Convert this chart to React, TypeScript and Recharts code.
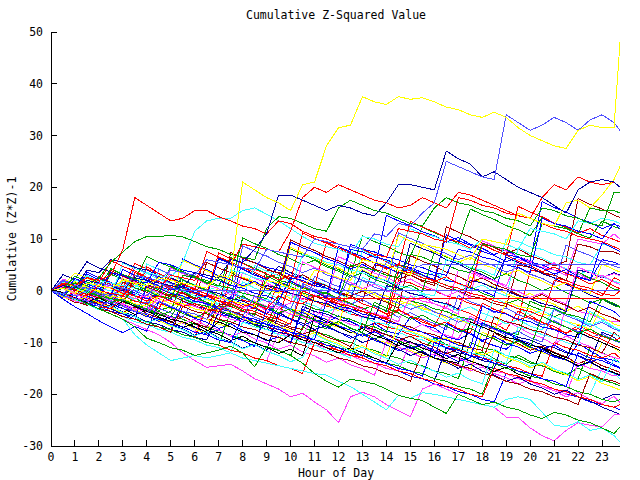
import React from "react"
import { LineChart, Line, XAxis, YAxis } from "recharts"

// hour of day, half-hour steps plus the last quarter
const hours = [
  0, 0.5, 1, 1.5, 2, 2.5, 3, 3.5, 4, 4.5, 5, 5.5, 6, 6.5, 7, 7.5, 8, 8.5, 9, 9.5, 10, 10.5, 11, 11.5,
  12, 12.5, 13, 13.5, 14, 14.5, 15, 15.5, 16, 16.5, 17, 17.5, 18, 18.5, 19, 19.5, 20, 20.5, 21, 21.5,
  22, 22.5, 23, 23.5, 23.75,
]

const xTicks = [0, 1, 2, 3, 4, 5, 6, 7, 8, 9, 10, 11, 12, 13, 14, 15, 16, 17, 18, 19, 20, 21, 22, 23]
const yTicks = [-30, -20, -10, 0, 10, 20, 30, 40, 50]

const yellowTop = [0, 0.5, -0.5, 1.5, 1, 0.5, 2, 1.5, 1, 2.5, 2, 1.5, 1, 0.5, 3, 2.5, 21, 19.5, 18, 17, 15.5, 20.5, 21, 28, 31.5, 32, 37.5, 36.5, 36, 37.5, 37, 37.3, 36.5, 35.5, 35, 34, 33.5, 34.5, 33.5, 31.5, 30, 29, 28, 27.5, 31, 32, 31.5, 31.5, 48]
const lightBlueHigh = [0, -0.5, -1, 0, 1.5, 1, 0.5, 3, 2.5, 2, 4, 3.5, 3, 6, 5.5, 5, 4.5, 4, 8, 7.5, 7, 6.5, 10, 9.5, 9, 8.5, 8, 11, 10.5, 13, 12.5, 15, 17, 25, 24, 23, 22, 21.5, 34, 32.5, 31, 32, 33.5, 32.5, 31, 33, 34, 32.5, 31]
const darkBlueHigh = [0, 1, 0.5, 2, 1.5, 1, 0, 2.5, 2, 1.5, 1, 0.5, 3.5, 3, 2.5, 6, 5.5, 8, 11, 18.5, 18.5, 17.5, 16.5, 15.5, 16.5, 16, 15, 14.5, 17, 20.5, 20.5, 20, 19.5, 27, 25.5, 24.5, 22, 23, 21.5, 20, 19, 18, 16.5, 15, 19.5, 21, 21.5, 21, 20]
const redEarly = [0, 1.5, 1, 2.5, 2, 3, 8, 18, 16.5, 15, 13.5, 14, 15.5, 15.5, 14.3, 13.5, 12.5, 12, 11, 13.5, 13, 11.5, 10.5, 10, 9, 8.5, 8, 7, 6.5, 12, 11.5, 11, 10, 9.5, 18, 17.5, 16.5, 16, 15, 14.5, 14, 13, 12, 11.5, 10.5, 10, 9.5, 8.5, 8]
const redLate = [0, -0.5, -1, 0.5, 0, -0.5, -1, 1.5, 1, 0.5, 3, 2.5, 2, 6, 5.5, 5, 9, 8.5, 8, 7.5, 11.5, 18, 20, 19, 20.5, 19.5, 18.5, 17.5, 17, 16, 16.5, 18, 17, 16, 19, 18.5, 17.5, 16.5, 15.5, 14.5, 14, 18, 20.5, 19.5, 22, 21, 20.5, 21, 20]
const cyanHigh = [0, 1, 0.5, -0.5, 2, 1.5, 1, 0.5, 3.5, 3, 2.5, 5.5, 11.5, 13.5, 14, 14, 15.5, 16, 14.8, 13.5, 12, 10.5, 9.2, 8.5, 8, 7, 10.5, 10, 9, 8.5, 12, 11, 10.5, 9.5, 9, 8, 10, 9.5, 9, 8, 12, 11.5, 11, 10, 13.5, 13, 14, 13.5, 13]
const greenHigh = [0, 0.5, 1.5, 1, 2.5, 5.5, 7.5, 9.5, 10.5, 10.5, 10.7, 10.4, 9.5, 8.5, 8, 7, 6.5, 6, 12, 14.3, 14, 13, 12, 11.5, 16, 17.5, 16.5, 15.5, 15, 14, 13, 12.5, 16, 18, 17, 16.5, 15.5, 15, 14, 13.5, 12.5, 16, 15.5, 14.5, 14, 13, 12.5, 19, 19]
const magentaLow = [0, -1, -2, -2.5, -3.5, -4.5, -5.5, -6.5, -7.5, -8.5, -10, -12, -13.5, -14.8, -14.5, -14.2, -15.5, -17, -18, -19, -20.5, -19.8, -21.5, -23, -25.5, -20.5, -19.6, -20.5, -22, -23.2, -24.3, -19, -18, -19, -20, -21, -22, -22.5, -24.4, -24.5, -26.5, -28, -29, -27, -25.5, -26, -26.3, -24, -24]
const cyanLow = [0, -1, -1.5, -2.5, -3.5, -4.5, -5.5, -8.5, -10.5, -12, -13.5, -13, -12.5, -13, -12.5, -12, -13, -13.5, -14, -14.5, -15, -15.5, -16, -16.3, -17.5, -18.5, -20, -21.5, -23, -20.2, -20.8, -19.7, -20, -20.5, -21, -21.5, -22, -22.5, -21, -20.5, -21, -23.5, -26, -26.3, -25.3, -27, -26.5, -28, -29.2]
const greenLow = [0, -1, -1.5, -2.5, -3.5, -4.5, -5.5, -7, -9.2, -10, -11, -11.5, -12.5, -12, -11.5, -10.7, -12, -14.7, -10.8, -11.5, -12.5, -14, -16, -17.5, -18.6, -17.1, -17.5, -18, -19, -20.2, -20.8, -21.2, -22.5, -23.7, -20, -21, -22, -21.5, -22.5, -23, -24, -24.7, -23.5, -24, -25, -25.5, -26.5, -27.6, -26.3]
const redFlat = [0, 0.5, -0.5, -1, 1, 0.5, -0.5, -1, -2, -1, -2, -3, -2.5, -3.5, -4, -2, -3, -2.5, -3.5, -1, -2, -2.5, -1, -1.5, -1.5, -1.5, -1.5, -1.5, -1.5, -1.5, -1.5, -1.5, -1.5, -1.5, -1.5, -1.5, -1.5, -1.5, -1.5, -1.5, -1.5, -1.5, -1.5, -1.5, -1.5, -1.5, -1.5, -1.5, -1.5]
const lightBlueFlat = [0, -0.5, 1, 0.5, -0.5, -1, 0.5, 0, -1, 1.5, 0.5, 0, 0, 0, 0, 0, 0, 0, 0, 0, 0, 0, 0, 0, 0, 0, 0, 0, 0, 0, 0, 0, 0, 0, 0, 0, 0, 0, 0, 0, 0, 0, 0, 0, 0, 0, 0, 0, 0]
const lightBlueFlatHigh = [0, -1, -1.5, -2, -3, -2, -3, -4, -4.5, -2, -3, -4, -4.5, -5.5, -3, -4, -5, -1, -2, -2.5, -3.5, 1, 0, -1, -1.5, 3, 2, 1.5, 5.5, 4.5, 4, 5, 5, 5, 5, 5, 5, 5, 5, 5, 5, 5, 5, 5, 5, 5, 5, 5, 5]
const blackMid = [0, -0.5, -1.5, -2, -3, -3.5, -2, -3, -4, -4.5, -5.5, -6, -7, -8, -6, -7, -8, -8.5, -9.5, -10, -8.5, -9.5, -10, -11, -12, -11, -12, -13, -14, -10, -11, -12, -13, -13.5, -14, -6, -7, -8, -9, -9.5, -10.5, -11, -12, -13, -8, -9, -10, -11, -11.5]
const yellowLate = [0, -0.5, -1, 0.5, 0, -1, -1.5, -2.5, -3, -1, -2, -2.5, -3.5, -4, -1, -2, -2.5, -3, 2, 1.5, 0.5, 0, 4, 3.5, 2.5, 2, 6, 5.5, 5, 4, 3, 9, 8.5, 8, 7, 6, 10, 9.5, 9, 15, 14, 13, 12.5, 17, 17.5, 16, 18.5, 21.5, 24]
const greenRise = [0, 1, 0.5, 0, -1, -1.5, -2, 0.5, 0, -1, -1.5, 3, 2.5, 2, 1, 0.5, -0.5, -1, -1.5, 2, 1.5, 0.5, 0, -0.5, -1.5, 5, 4.5, 4, 3, 2.5, 7, 6.5, 5.5, 5, 4, 3.5, 9, 8.5, 8, 7, 6.5, 13, 12.5, 12, 11, 16, 15.5, 15.5, 15]
const blueRise = [0, -1, 1.5, 1, 0, 3.5, 3, 2, 1.5, 5.5, 5, 4, 3.5, 2.5, 2, 1, 0.5, -0.5, -1, -2, 2.5, 2, 1, 0.5, -0.5, 9, 8, 7.5, 6.5, 6, 5, 4.5, 3.5, 3, 8, 7.5, 6.5, 6, 5, 4.5, 3.5, 14, 13, 12.5, 11.5, 11, 10, 13, 12]
const magentaRise = [0, -0.5, -1.5, -2, -1, -2, -2.5, -3.5, -4, -1, -2, -2.5, -3, -4, -4.5, -5.5, -6, -2, -3, -3.5, -4.5, -5, -6, -6.5, -2, -3, -3.5, -4.5, -5, -6, -1, -2, -2.5, -3.5, 4, 3.5, 2.5, 2, 1, 6, 5.5, 4.5, 4, 3, 10, 9.5, 9, 11, 10]
const cyanMid = [0, 0.5, 2, 1.5, 0.5, 0, -1, -1.5, 2, 1.5, 0.5, 0, -1, -1.5, -2.5, 4, 3.5, 2.5, 2, 1, 0.5, 7, 6.5, 5.5, 5, 4, 3.5, 2.5, 2, 1, 0.5, -0.5, -1, 6, 5.5, 4.5, 4, 3, 10, 9.5, 8.5, 8, 7, 6.5, 5.5, 5, 9, 8.5, 8]
const darkRedMid = [0, -1, -1.5, -2.5, 1, 0.5, -0.5, -1, -2, -2.5, -3.5, -4, -5, -5.5, -1, -2, -2.5, -3.5, 4, 3.5, 2.5, 2, 1, 0.5, -0.5, -1, -2, 5, 4.5, 3.5, 3, 2, 1.5, 0.5, 0, -1, -1.5, -2.5, -3, 5, 4.5, 3.5, 3, 2, 9, 8.5, 7.5, 7.5, 7]
const darkBlueMid = [0, 1, 0.5, 4, 3.5, 6, 5.5, 4.5, 4, 3, 2.5, 1.5, 1, 0, -0.5, -1.5, -2, -3, 1, 0.5, -0.5, -1, -2, -2.5, -3.5, -4, -5, -5.5, 1, 0.5, -0.5, -1, -2, -2.5, -3.5, 2, 1.5, 0.5, 0, -1, -1.5, -2.5, -3, -4, 4, 3.5, 2.5, 3.5, 3]
const redMid = [0, -0.5, -1.5, -2, -3, -3.5, -1, -2, -2.5, -3.5, 1, 0.5, -0.5, -1, -2, -2.5, -3.5, -4, -5, -5.5, -6.5, 0, -1, -1.5, -2.5, -3, -4, -4.5, -5.5, 4, 3.5, 2.5, 2, 1, 0.5, -0.5, -1, -2, -2.5, -3.5, -4, -5, 2, 1.5, 0.5, 0, -1, 2.5, 2]
const greenMid = [0, 1.5, 1, 0, -0.5, -1.5, -2, -3, -3.5, -4.5, -5, -1.5, -2.5, -3, -4, -4.5, -5.5, -6, -7, -1, -2, -2.5, -3.5, -4, -5, -5.5, -6.5, -7, -8, -1, -2, -2.5, -3.5, -4, -5, -5.5, -6.5, -7, -8, -8.5, -2, -3, -3.5, -4.5, -5, -6, -1.5, -2.5, -3]
const blueMid = [0, -1, -1.5, -2.5, -3, -4, -4.5, -5.5, 1, 0.5, -0.5, -1, -2, -2.5, -3.5, -4, -5, -5.5, -6.5, -7, -8, -8.5, -9.5, -2, -3, -3.5, -4.5, -5, -6, -6.5, -7.5, -8, -9, -9.5, -10.5, -11, -3, -4, -4.5, -5.5, -6, -7, -7.5, -8.5, -9, -2, -3, -4, -5]
const magentaMid = [0, 0.5, -0.5, -1, -2, -2.5, -3.5, -4, -5, -5.5, -6.5, -7, -8, -3, -4, -4.5, -5.5, -6, -7, -7.5, -8.5, -9, -4, -5, -5.5, -6.5, -7, -8, -8.5, -9.5, -10, -11, -11.5, -12.5, -5, -6, -6.5, -7.5, -8, -9, -9.5, -10.5, -11, -3, -4, -4.5, -5.5, -6, -6]
const cyanDrift = [0, -1, -2, -2.5, -3.5, -4, -5, -6, -6.5, -7.5, -8, -9, -9.5, -10.5, -11, -12, -6, -7, -7.5, -8.5, -9, -10, -10.5, -11.5, -12, -13, -5, -6, -6.5, -7.5, -8, -9, -9.5, -10.5, -11, -12, -12.5, -13.5, -14, -7, -7.5, -8.5, -9, -10, -10.5, -4, -5.5, -7, -8]
const darkRedDrift = [0, 1, 0, -0.5, -1.5, -2, -3, 3, 2, 1.5, 0.5, 0, -1, -1.5, -2.5, -3, -4, -4.5, -5.5, -6, -7, -7.5, -1, -2, -2.5, -3.5, -4, -5, -5.5, -6.5, -7, -8, -8.5, -9.5, -10, -11, -11.5, -5, -6, -6.5, -7.5, -8, -9, -9.5, -10.5, -11, -12, -8, -9]
const darkBlueDrift = [0, -0.5, -1.5, -2, 2, 1.5, 0.5, 0, -1, -1.5, -2.5, -3, -4, -4.5, -5.5, -6, -7, -7.5, -8.5, -9, -10, -3, -4, -4.5, -5.5, -6, -7, -7.5, -8.5, -9, -10, -10.5, -11.5, -12, -13, -13.5, -14.5, -15, -8, -9, -9.5, -10.5, -11, -12, -12.5, -13.5, -8, -9, -10]
const yellowDrift = [0, -1, -1.5, -2.5, -3, -4, -4.5, -1, -2, -2.5, -3.5, -4, -5, -5.5, -6.5, -7, -8, -8.5, -9.5, -10, -4, -5, -5.5, -6.5, -7, -8, -8.5, -9.5, -10, -11, -11.5, -12.5, -13, -14, -14.5, -15.5, -8, -9, -9.5, -10.5, -11, -12, -12.5, -13.5, -14, -15, -10, -11, -12]
const redDrift = [0, -0.5, -1.5, -2, -3, -3.5, -4.5, -5, -6, -6.5, -7.5, -8, -9, -3, -4, -4.5, -5.5, -6, -7, -7.5, -8.5, -9, -10, -10.5, -11.5, -12, -13, -6, -7, -7.5, -8.5, -9, -10, -10.5, -11.5, -12, -13, -13.5, -14.5, -15, -16, -16.5, -10, -11, -11.5, -12.5, -13, -12, -13]
const greenDrift = [0, -1, -2, -2.5, -3.5, -1, -2, -2.5, -3.5, -4, -5, -5.5, -6.5, -7, -8, -8.5, -9.5, -10, -11, -11.5, -12.5, -7, -8, -8.5, -9.5, -10, -11, -11.5, -12.5, -13, -14, -14.5, -15.5, -16, -17, -10, -11, -11.5, -12.5, -13, -14, -14.5, -15.5, -16, -17, -11, -12, -13, -14]
const blueDrift = [0, 0.5, -0.5, -1, -2, -2.5, -3.5, -4, -5, -5.5, -6.5, -7, -8, -8.5, -9.5, -10, -5, -6, -6.5, -7.5, -8, -9, -9.5, -10.5, -11, -12, -12.5, -13.5, -14, -15, -15.5, -16.5, -10, -11, -11.5, -12.5, -13, -14, -14.5, -15.5, -16, -17, -17.5, -18.5, -12, -13, -13.5, -14.5, -15]
const magentaDrift = [0, -1, -1.5, -2.5, -3, -4, -4.5, -5.5, -6, -7, -7.5, -8.5, -9, -10, -10.5, -11.5, -12, -13, -13.5, -8, -9, -9.5, -10.5, -11, -12, -12.5, -13.5, -14, -15, -15.5, -10, -11, -11.5, -12.5, -13, -14, -14.5, -15.5, -16, -17, -17.5, -18.5, -19, -20, -14, -15, -15.5, -16.5, -16]
const cyanFall = [0, -0.5, -1.5, -2, -3, -3.5, 2, 1, 0.5, -0.5, -1, -2, -2.5, -3.5, -4, -5, -5.5, -6.5, -7, -8, -8.5, -9.5, -10, -11, -11.5, -12.5, -13, -14, -14.5, -8, -9, -9.5, -10.5, -11, -12, -12.5, -13.5, -14, -15, -15.5, -16.5, -17, -18, -18.5, -19.5, -20, -15, -16, -17]
const darkRedFall = [0, -1, -2, -2.5, -3.5, -4, -5, -5.5, -6.5, -7, -8, -3, -4, -4.5, -5.5, -6, -7, -7.5, -8.5, -9, -10, -10.5, -11.5, -12, -13, -13.5, -14.5, -15, -16, -16.5, -17.5, -12, -13, -13.5, -14.5, -15, -16, -16.5, -17.5, -18, -19, -19.5, -20.5, -21, -22, -16, -17, -17.5, -18]
const darkBlueFall = [0, -0.5, -1.5, -2, -3, -3.5, -4.5, -5, -6, -6.5, -7.5, -8, -9, -9.5, -4, -5, -5.5, -6.5, -7, -8, -8.5, -9.5, -10, -11, -11.5, -12.5, -13, -14, -14.5, -15.5, -16, -17, -17.5, -11, -12, -12.5, -13.5, -14, -15, -15.5, -16.5, -17, -18, -18.5, -19.5, -20, -21, -20, -20]
const redFall = [0, -1, -1.5, -2.5, -3, -4, -4.5, -5.5, -6, -7, -7.5, -8.5, -9, -10, -10.5, -11.5, -12, -13, -13.5, -14.5, -15, -16, -10, -11, -11.5, -12.5, -13, -14, -14.5, -15.5, -16, -17, -17.5, -18.5, -19, -20, -20.5, -15, -16, -16.5, -17.5, -18, -19, -19.5, -20.5, -21, -22, -22.5, -22]
const blueFall = [0, -0.5, -1.5, -2, -3, -3.5, -4.5, -5, -6, -6.5, -7.5, -2, -3, -3.5, -4.5, -5, -6, -6.5, -7.5, -8, -9, -9.5, -10.5, -11, -12, -12.5, -13.5, -14, -15, -15.5, -16.5, -17, -18, -18.5, -19.5, -20, -21, -21.5, -16, -17, -17.5, -18.5, -19, -20, -20.5, -21.5, -22, -22.5, -23]
const greenFall = [0, -1, -1.5, -2.5, -3, -4, -4.5, -5.5, -6, -7, -7.5, -8.5, -9, -10, -10.5, -4, -5, -5.5, -6.5, -7, -8, -8.5, -9.5, -10, -11, -11.5, -12.5, -13, -14, -14.5, -15.5, -16, -17, -17.5, -18.5, -19, -20, -14, -15, -15.5, -16.5, -17, -18, -18.5, -19.5, -20, -21, -21.5, -21]
const yellowMid = [0, 0.5, -0.5, -1, 2, 1.5, 0.5, 0, -1, -1.5, -2.5, -3, -4, -4.5, 1, 0.5, -0.5, -1, -2, -2.5, -3.5, -4, -5, -5.5, -6.5, 1, 0.5, -0.5, -1, -2, -2.5, -3.5, -4, -5, -5.5, -6.5, -7, -8, -2, -3, -3.5, -4.5, -5, -6, -6.5, -7.5, -3, -4, -5]
const blueUp = [0, 1, 0.5, -0.5, -1, -2, -2.5, 3, 2.5, 1.5, 1, 0, -0.5, -1.5, -2, -3, 6, 5.5, 4.5, 4, 3, 2.5, 1.5, 1, 0, 8, 7.5, 6.5, 6, 5, 4.5, 3.5, 3, 2, 1.5, 0.5, 0, -1, 7, 6.5, 5.5, 5, 4, 3.5, 2.5, 2, 6, 5.5, 5]
const redZero = [0, -0.5, -1.5, 2, 1.5, 0.5, 0, -1, -1.5, -2.5, -3, -4, -4.5, -5.5, -6, 3, 2.5, 1.5, 1, 0, -0.5, -1.5, -2, -3, -3.5, -4.5, -5, -6, -6.5, 2, 1.5, 0.5, 0, -1, -1.5, -2.5, -3, -4, -4.5, -5.5, 4, 3.5, 2.5, 2, 1, 0.5, -0.5, -1, 0]
const blueWander = [0, 1.8, 0.6, 3.2, 2.1, 1.4, 0.3, -0.8, 1.9, 0.7, -0.4, -1.6, -0.9, -2.3, -3.1, -1.2, -2.6, -3.4, -4.5, -2.2, -3.5, -4.1, -5.6, -6.2, -4.8, -5.9, -7.1, -6.3, -7.8, -8.4, -5.1, -6.6, -7.2, -8.9, -9.5, -8.1, -9.8, -10.6, -11.3, -9.4, -10.9, -11.7, -12.8, -13.4, -10.2, -11.6, -12.9, -13.5, -13.8]
const redWander = [0, -1.3, -0.2, -1.9, 2.4, 1.1, 0.2, -1.1, 4.6, 3.3, 2.4, 1.2, 0.5, -0.7, -1.5, -0.3, -1.8, -2.4, -3.7, 1.6, 0.4, -0.6, -1.9, -2.7, -1.1, -2.5, -3.3, -4.6, -5.2, -3.8, -4.9, -6.1, -6.8, -2.3, -3.6, -4.4, -5.7, -6.3, -7.6, -3.9, -5.2, -6.1, -7.4, -8.2, -6.7, -7.9, -8.8, -9.6, -9.2]
const greenWander = [0, 0.9, -0.4, -1.6, -0.8, -2.1, -2.9, -1.4, -2.7, -3.8, -3.1, -4.4, -5.3, -4.1, -5.6, -6.4, -5.2, -6.7, -7.5, -3.2, -4.6, -5.4, -6.8, -7.3, -5.9, -7.2, -8.1, -9.3, -8.4, -9.7, -10.5, -11.6, -9.1, -10.4, -11.3, -12.6, -11.8, -13.1, -14.2, -12.4, -13.7, -14.5, -15.6, -16.3, -14.9, -16.1, -17.2, -17.9, -18.4]
const magentaWander = [0, 2.3, 1.2, 0.4, -0.7, 1.5, 0.6, -0.5, -1.3, -2.4, -1.6, -2.8, 0.9, -0.2, -1.4, -2.1, -3.3, -2.5, -3.9, -4.6, -3.4, -4.7, -5.5, -1.8, -3.1, -3.9, -5.2, -4.3, -5.6, -6.4, -7.7, -6.5, -7.8, -8.6, -9.3, -4.9, -6.2, -7.1, -5.8, -7.0, -8.3, -9.1, -10.4, -8.7, -9.9, -10.8, -12.1, -12.9, -13.2]
const cyanWander = [0, -0.6, 1.4, 0.3, -0.9, -1.7, -0.6, -1.9, -2.6, 0.8, -0.3, -1.2, -2.4, -1.5, -2.8, -3.6, 1.7, 0.5, -0.4, -1.6, -0.8, -2.1, -2.9, -4.1, -3.2, -4.5, 2.6, 1.4, 0.6, -0.7, -1.5, -0.6, -1.9, -2.7, -3.9, -3.1, -4.3, -5.2, -6.4, -5.6, -6.8, -7.6, -3.3, -4.5, -5.4, -6.6, -5.8, -7.1, -7.5]
const darkRedWander = [0, -1.1, -2.3, -1.4, -2.6, -3.5, -4.2, -3.1, -4.4, -5.3, -6.1, -4.9, -6.2, -7.1, -2.8, -3.9, -4.7, -6.0, -5.2, -6.5, -7.3, -8.4, -7.6, -8.9, -9.7, -10.8, -6.4, -7.7, -8.5, -9.6, -8.8, -10.1, -10.9, -12.2, -11.3, -12.6, -13.4, -8.1, -9.4, -10.2, -11.5, -10.7, -11.9, -12.8, -14.1, -13.2, -14.5, -15.3, -15.8]
const darkBlueWander = [0, 3.1, 2.2, 5.6, 4.4, 3.6, 2.3, 1.5, 0.4, 2.8, 1.6, 0.8, -0.4, -1.2, 6.4, 5.3, 4.1, 3.3, 2.0, 4.7, 3.5, 2.6, 1.4, 0.6, -0.6, -1.4, 3.9, 2.7, 1.9, 0.6, 9.2, 8.1, 7.3, 6.0, 5.2, 4.0, 3.1, 2.0, 6.5, 5.4, 4.6, 3.3, 2.5, 1.2, 0.4, -0.8, -1.6, -2.7, -3.1]
const lightBlueWander = [0, -0.8, -1.7, 0.9, -0.1, -1.2, -2.0, -3.1, -2.2, -3.4, -4.3, -5.1, -1.6, -2.7, -3.6, -4.8, -3.9, -5.1, -6.0, -7.2, -6.3, 1.4, 0.3, -0.6, -1.8, -2.6, -1.7, -3.0, -3.8, -5.1, -4.2, -5.5, -6.3, -7.5, -0.9, -2.1, -2.9, -4.2, -3.3, -4.6, -5.4, -6.6, -5.8, -7.0, -7.9, -9.1, -8.3, -9.6, -10.1]
const yellowWander = [0, 1.2, 3.4, 2.5, 1.3, 0.5, -0.7, 2.6, 1.5, 0.7, -0.5, -1.3, -0.4, -1.7, -2.5, 3.8, 2.6, 1.8, 0.5, -0.3, -1.5, -0.6, -1.9, -2.7, -3.9, 1.2, 0.1, -0.8, -2.0, -2.8, -1.9, -3.2, -4.0, -5.3, -4.4, 2.7, 1.5, 0.7, -0.6, -1.4, -0.5, -1.8, -2.6, -3.9, -3.0, -4.3, -5.1, -6.4, -6.8]
const greenJump = [0, -0.7, -1.8, -2.6, -1.5, 4.3, 3.1, 2.3, 1.0, 0.2, -1.0, -0.1, -1.4, -2.2, -3.4, -2.6, -3.8, -4.7, 2.9, 1.7, 0.9, -0.4, -1.2, -0.3, -1.6, -2.4, -3.6, -2.8, -4.0, 5.1, 4.0, 3.1, 1.9, 1.1, -0.1, 0.8, -0.5, -1.3, -2.5, -1.7, -2.9, -3.8, -5.0, -4.1, 3.6, 2.4, 1.6, 0.3, 0.1]
const redSlide = [0, 0.6, -0.5, -1.4, -2.3, -1.4, -2.6, 3.5, 2.4, 1.5, 0.3, -0.5, -1.6, -0.8, -2.0, -2.9, -4.1, -3.2, -4.4, -5.3, 1.9, 0.8, -0.1, -1.3, -2.1, -1.2, -2.5, -3.3, -4.5, -3.6, -4.9, -5.7, -6.9, -6.0, -7.3, -8.1, -2.4, -3.6, -4.4, -5.7, -4.8, -6.1, -6.9, -8.2, -7.3, -8.6, -9.4, -10.6, -11.0]
const blueSlide = [0, -1.4, -0.5, -1.8, -2.7, -3.5, -2.6, -3.9, -4.7, -5.9, -5.0, -6.3, -7.1, -8.4, -7.5, -8.8, -9.6, -10.8, -3.4, -4.6, -5.5, -6.7, -5.8, -7.1, -7.9, -9.2, -8.3, -9.6, -10.4, -11.6, -10.8, -12.1, -12.9, -6.3, -7.5, -8.4, -9.6, -8.8, -10.1, -10.9, -12.1, -11.3, -12.6, -13.4, -14.6, -13.8, -15.1, -15.9, -16.4]
const magentaSlide = [0, 0.4, -0.7, -1.5, -0.6, -1.9, -2.7, -3.9, -3.0, -4.3, -5.1, -6.3, -5.5, -6.8, -7.6, -8.8, -8.0, -9.3, -10.1, -11.3, -10.5, -11.8, -12.6, -13.8, -13.0, -14.3, -15.1, -16.3, -9.7, -10.9, -11.8, -13.0, -12.2, -13.5, -14.3, -15.5, -14.7, -16.0, -16.8, -18.0, -17.2, -18.5, -19.3, -20.5, -19.7, -21.0, -21.8, -20.4, -21.6]
const cyanJump = [0, 1.6, 0.5, 2.9, 1.8, 0.9, -0.3, -1.1, 5.2, 4.1, 3.2, 2.0, 1.2, 0.0, 0.9, -0.4, -1.2, -2.4, -1.6, -2.8, -3.7, 3.1, 1.9, 1.1, -0.2, -1.0, -0.1, -1.4, -2.2, -3.4, -2.6, -3.8, -4.7, -5.9, -5.1, -6.4, -7.2, -1.3, -2.5, -3.4, -4.6, -3.8, -5.1, -5.9, -7.1, -6.3, -7.6, -8.4, -8.9]
const darkRedJump = [0, -0.9, -2.0, -2.8, -1.9, -3.2, 1.7, 0.6, -0.3, -1.5, -0.7, -2.0, -2.8, -4.0, -3.2, 7.4, 6.3, 5.4, 4.2, 3.4, 2.2, 3.1, 1.8, 1.0, -0.2, -1.0, -0.1, -1.4, -2.2, -3.4, 6.8, 5.7, 4.8, 3.6, 2.8, 1.6, 2.5, 1.2, 0.4, -0.8, -1.6, -0.7, -2.0, -2.8, -4.0, -3.2, -4.5, -5.3, -5.9]
const darkBlueSlide = [0, -0.5, -1.6, -2.4, -3.6, -2.8, -4.1, -4.9, -6.1, -5.3, -6.6, -7.4, -8.6, -7.8, -9.1, -9.9, -11.1, -10.3, -11.6, -4.2, -5.4, -6.3, -7.5, -6.7, -8.0, -8.8, -10.0, -9.2, -10.5, -11.3, -12.5, -11.7, -13.0, -13.8, -15.0, -14.2, -15.5, -16.3, -17.5, -16.7, -18.0, -18.8, -20.0, -19.2, -20.5, -21.3, -22.5, -23.4, -23.9]
const lightBlueJump = [0, 1.9, 0.8, -0.1, -1.3, -0.5, -1.7, -2.6, -3.8, 4.2, 3.1, 2.2, 1.0, 0.2, -1.0, -0.1, -1.4, -2.2, -3.4, -2.6, -3.9, -4.7, 2.8, 1.7, 0.8, -0.4, -1.2, -0.3, -1.6, -2.4, -3.6, -2.8, -4.1, -4.9, -6.1, -5.3, -6.6, -7.4, -8.6, -7.8, -9.1, -9.9, -3.6, -4.8, -5.7, -6.9, -6.1, -7.4, -7.8]
const yellowSlide = [0, -1.2, -2.0, -1.1, -2.4, -3.2, -4.4, -3.6, -4.9, -5.7, -6.9, -6.1, -7.4, -8.2, -3.1, -4.3, -5.2, -6.4, -5.6, -6.9, -7.7, -8.9, -8.1, -9.4, -10.2, -11.4, -10.6, -11.9, -12.7, -6.6, -7.8, -8.7, -9.9, -9.1, -10.4, -11.2, -12.4, -11.6, -12.9, -13.7, -14.9, -14.1, -15.4, -16.2, -17.4, -16.6, -17.9, -18.7, -19.2]
const blackSlide = [0, -0.3, -1.4, -2.2, -1.3, -2.6, -3.4, -4.6, -3.8, -5.1, -5.9, -7.1, -6.3, -7.6, -8.4, -9.6, -8.8, -10.1, -10.9, -12.1, -11.3, -12.6, -4.8, -6.0, -6.9, -8.1, -7.3, -8.6, -9.4, -10.6, -9.8, -11.1, -11.9, -13.1, -12.3, -13.6, -14.4, -15.6, -14.8, -16.1, -16.9, -11.2, -12.4, -13.3, -14.5, -13.7, -15.0, -15.8, -16.3]
const redJumpy = [0, 1.3, 0.2, 2.6, 1.5, 5.8, 4.7, 3.8, 2.6, 1.8, 0.6, 1.5, 0.2, -0.6, 7.3, 6.2, 5.3, 4.1, 3.3, 2.1, 3.0, 1.7, 0.9, 9.4, 8.3, 7.4, 6.2, 5.4, 4.2, 5.1, 3.8, 3.0, 1.8, 2.7, 1.4, 0.6, 8.9, 7.8, 6.9, 5.7, 4.9, 3.7, 4.6, 3.3, 2.5, 1.3, 2.2, 0.9, 0.4]
const greenSlide = [0, -1.0, 0.8, -0.3, -1.1, -2.3, -1.5, -2.8, -3.6, -4.8, -4.0, 2.1, 1.0, 0.1, -1.1, -1.9, -1.0, -2.3, -3.1, -4.3, -3.5, -4.8, -5.6, -6.8, -6.0, -7.3, -8.1, -2.2, -3.4, -4.3, -5.5, -4.7, -6.0, -6.8, -8.0, -7.2, -8.5, -9.3, -10.5, -9.7, -11.0, -4.9, -6.1, -7.0, -8.2, -7.4, -8.7, -9.5, -9.9]
const blueJumpy = [0, -0.8, 2.4, 1.3, 0.4, -0.8, 4.1, 3.0, 2.1, 0.9, 0.1, 1.0, -0.3, -1.1, 6.2, 5.1, 4.2, 3.0, 2.2, 1.0, 1.9, 0.6, -0.2, -1.4, 8.6, 7.5, 6.6, 5.4, 4.6, 3.4, 4.3, 3.0, 2.2, 10.8, 9.7, 8.8, 7.6, 6.8, 5.6, 6.5, 5.2, 4.4, 3.2, 4.1, 2.8, 2.0, 9.3, 8.2, 7.6]
const magentaJumpy = [0, 0.8, -0.3, -1.1, 1.6, 0.5, -0.4, -1.6, -0.8, -2.1, 4.4, 3.3, 2.4, 1.2, 0.4, -0.8, 0.1, -1.2, -2.0, -3.2, -2.4, 5.6, 4.5, 3.6, 2.4, 1.6, 0.4, 1.3, 0.0, -0.8, -2.0, -1.2, -2.5, -3.3, -4.5, 3.9, 2.8, 1.9, 0.7, -0.1, -1.3, -0.4, -1.7, -2.5, 4.6, 3.5, 2.6, 3.3, 2.9]
const cyanSlide = [0, -0.6, -1.7, -2.5, -3.7, -2.9, -4.2, -5.0, -6.2, -5.4, -6.7, -7.5, -8.7, -7.9, -9.2, -10.0, -11.2, -10.4, -11.7, -12.5, -13.7, -12.9, -8.4, -9.6, -10.5, -11.7, -10.9, -12.2, -13.0, -14.2, -13.4, -14.7, -15.5, -16.7, -15.9, -17.2, -18.0, -11.3, -12.5, -13.4, -14.6, -13.8, -15.1, -15.9, -17.1, -16.3, -17.6, -13.2, -14.0]
const greenClimb = [0, -0.8, 1.6, 0.5, -0.4, 3.2, 2.1, 1.3, 0.1, -0.7, 4.8, 3.7, 2.8, 1.6, 0.8, 6.4, 5.3, 4.4, 3.2, 2.4, 8.1, 7.0, 6.1, 4.9, 4.1, 2.9, 10.6, 9.5, 8.6, 7.4, 6.6, 12.3, 11.2, 10.3, 9.1, 15.8, 14.7, 13.8, 12.6, 11.8, 10.6, 14.2, 13.1, 12.2, 11.0, 10.2, 13.5, 12.4, 12.0]
const redClimb = [0, 1.2, 0.1, -0.8, 2.7, 1.6, 0.7, 5.3, 4.2, 3.3, 2.1, 1.3, 0.1, 7.6, 6.5, 5.6, 4.4, 3.6, 2.4, 3.3, 2.0, 11.2, 10.1, 9.2, 8.0, 7.2, 6.0, 6.9, 5.6, 4.8, 13.4, 12.3, 11.4, 10.2, 9.4, 8.2, 9.1, 7.8, 7.0, 16.3, 15.2, 14.3, 13.1, 12.3, 11.1, 12.0, 10.7, 9.9, 9.4]
const blueClimb = [0, -1.1, -2.0, 3.6, 2.5, 1.6, 0.4, -0.4, -1.6, -0.7, -2.0, 6.1, 5.0, 4.1, 2.9, 2.1, 0.9, 1.8, 0.5, -0.3, 9.4, 8.3, 7.4, 6.2, 5.4, 4.2, 5.1, 3.8, 14.6, 13.5, 12.6, 11.4, 10.6, 9.4, 10.3, 9.0, 8.2, 7.0, 7.9, 6.6, 5.8, 17.2, 16.1, 15.2, 14.0, 13.2, 12.0, 12.9, 12.4]
const cyanClimb = [0, 0.7, -0.4, -1.3, -2.1, -1.2, 5.4, 4.3, 3.4, 2.2, 1.4, 0.2, 1.1, -0.2, -1.0, -2.2, -1.4, 4.9, 3.8, 2.9, 1.7, 0.9, -0.3, 0.6, -0.7, -1.5, 7.8, 6.7, 5.8, 4.6, 3.8, 2.6, 3.5, 2.2, 1.4, 0.2, 1.1, -0.2, -1.0, 8.3, 7.2, 6.3, 5.1, 4.3, 3.1, 4.0, 2.7, 1.9, 1.5]
const magentaClimb = [0, -0.9, -1.8, -0.9, -2.2, -3.0, 2.8, 1.7, 0.8, -0.4, -1.2, -0.3, -1.6, -2.4, -3.6, -2.8, 3.5, 2.4, 1.5, 0.3, -0.5, -1.7, -0.8, -2.1, 6.6, 5.5, 4.6, 3.4, 2.6, 1.4, 2.3, 1.0, 0.2, -1.0, -0.1, -1.4, 9.7, 8.6, 7.7, 6.5, 5.7, 4.5, 5.4, 4.1, 3.3, 2.1, 3.0, 1.7, 1.2]
const darkRedClimb = [0, 1.4, 0.3, -0.6, -1.4, 3.9, 2.8, 1.9, 0.7, -0.1, -1.3, -0.4, -1.7, 5.5, 4.4, 3.5, 2.3, 1.5, 0.3, 1.2, 9.8, 8.7, 7.8, 6.6, 5.8, 4.6, 5.5, 4.2, 3.4, 2.2, 3.1, 1.8, 1.0, 12.4, 11.3, 10.4, 9.2, 8.4, 7.2, 8.1, 6.8, 6.0, 4.8, 5.7, 17.8, 16.7, 15.8, 14.6, 14.2]
const lightBlueClimb = [0, 2.1, 1.0, 0.1, -0.7, -1.9, -1.0, 4.6, 3.5, 2.6, 1.4, 0.6, -0.6, 0.3, -1.0, -1.8, 8.7, 7.6, 6.7, 5.5, 4.7, 3.5, 4.4, 3.1, 2.3, 1.1, 2.0, 0.7, -0.1, 11.2, 10.1, 9.2, 8.0, 7.2, 6.0, 6.9, 5.6, 4.8, 3.6, 4.5, 3.2, 2.4, 1.2, 8.8, 7.7, 6.8, 5.6, 4.8, 4.4]
const greenHump = [0, 0.4, 2.8, 1.7, 0.8, 4.2, 3.1, 2.2, 6.6, 5.5, 4.6, 3.4, 2.6, 1.4, 2.3, 1.0, 10.2, 9.1, 8.2, 7.0, 6.2, 5.0, 5.9, 4.6, 3.8, 2.6, 3.5, 2.2, 1.4, 0.2, 1.1, -0.2, 7.6, 6.5, 5.6, 4.4, 3.6, 2.4, 3.3, 2.0, 1.2, 0.0, 0.9, -0.4, -1.2, -2.4, -1.6, -2.9, -3.2]
const yellowClimb = [0, -0.6, 1.8, 0.7, -0.2, -1.4, 2.4, 1.3, 0.4, -0.8, -1.6, 5.9, 4.8, 3.9, 2.7, 1.9, 0.7, 1.6, 0.3, -0.5, 8.4, 7.3, 6.4, 5.2, 4.4, 3.2, 4.1, 2.8, 2.0, 10.7, 9.6, 8.7, 7.5, 6.7, 5.5, 6.4, 5.1, 4.3, 3.1, 4.0, 2.7, 1.9, 0.7, 1.6, 0.3, -0.5, 5.2, 4.1, 3.6]
const blueDip = [0, -1.6, -3.1, -4.4, -5.8, -7.0, -8.1, -6.9, -7.8, -2.1, -3.2, -4.1, -5.3, -6.1, -7.3, -6.4, -7.7, -8.5, -9.7, -8.9, -10.2, -3.6, -4.7, -5.6, -6.8, -7.6, -8.8, -7.9, -9.2, -10.0, -11.2, -10.4, -11.7, -12.5, -13.7, -12.9, -6.2, -7.3, -8.2, -9.4, -10.2, -11.4, -10.5, -11.8, -12.6, -13.8, -13.0, -14.3, -14.8]

const RED = "#ff0000"
const GREEN = "#00a000"
const BLUE = "#0000ff"
const MAGENTA = "#ff40ff"
const CYAN = "#40ffff"
const DKRED = "#a00000"
const DKBLUE = "#0000a0"
const LTBLUE = "#5050ff"
const YELLOW = "#ffff00"
const BLACK = "#000000"

const series = [
  { key: "redZero", values: redZero, color: RED },
  { key: "greenDrift", values: greenDrift, color: GREEN },
  { key: "blueFall", values: blueFall, color: BLUE },
  { key: "magentaMid", values: magentaMid, color: MAGENTA },
  { key: "cyanFall", values: cyanFall, color: CYAN },
  { key: "darkRedMid", values: darkRedMid, color: DKRED },
  { key: "darkBlueDrift", values: darkBlueDrift, color: DKBLUE },
  { key: "yellowDrift", values: yellowDrift, color: YELLOW },
  { key: "blueWander", values: blueWander, color: BLUE },
  { key: "redWander", values: redWander, color: RED },
  { key: "greenWander", values: greenWander, color: GREEN },
  { key: "magentaWander", values: magentaWander, color: MAGENTA },
  { key: "cyanWander", values: cyanWander, color: CYAN },
  { key: "darkRedWander", values: darkRedWander, color: DKRED },
  { key: "darkBlueWander", values: darkBlueWander, color: DKBLUE },
  { key: "lightBlueWander", values: lightBlueWander, color: LTBLUE },
  { key: "yellowWander", values: yellowWander, color: YELLOW },
  { key: "greenClimb", values: greenClimb, color: GREEN },
  { key: "redClimb", values: redClimb, color: RED },
  { key: "blueClimb", values: blueClimb, color: BLUE },
  { key: "cyanClimb", values: cyanClimb, color: CYAN },
  { key: "magentaClimb", values: magentaClimb, color: MAGENTA },
  { key: "redDrift", values: redDrift, color: RED },
  { key: "greenMid", values: greenMid, color: GREEN },
  { key: "blueUp", values: blueUp, color: BLUE },
  { key: "magentaDrift", values: magentaDrift, color: MAGENTA },
  { key: "cyanDrift", values: cyanDrift, color: CYAN },
  { key: "darkRedDrift", values: darkRedDrift, color: DKRED },
  { key: "darkBlueFall", values: darkBlueFall, color: DKBLUE },
  { key: "yellowMid", values: yellowMid, color: YELLOW },
  { key: "greenJump", values: greenJump, color: GREEN },
  { key: "redSlide", values: redSlide, color: RED },
  { key: "blueSlide", values: blueSlide, color: BLUE },
  { key: "magentaSlide", values: magentaSlide, color: MAGENTA },
  { key: "cyanJump", values: cyanJump, color: CYAN },
  { key: "darkRedJump", values: darkRedJump, color: DKRED },
  { key: "darkBlueSlide", values: darkBlueSlide, color: DKBLUE },
  { key: "lightBlueJump", values: lightBlueJump, color: LTBLUE },
  { key: "yellowSlide", values: yellowSlide, color: YELLOW },
  { key: "blackSlide", values: blackSlide, color: BLACK },
  { key: "darkRedClimb", values: darkRedClimb, color: DKRED },
  { key: "lightBlueClimb", values: lightBlueClimb, color: LTBLUE },
  { key: "greenHump", values: greenHump, color: GREEN },
  { key: "yellowClimb", values: yellowClimb, color: YELLOW },
  { key: "blueDip", values: blueDip, color: BLUE },
  { key: "redFall", values: redFall, color: RED },
  { key: "greenFall", values: greenFall, color: GREEN },
  { key: "blueMid", values: blueMid, color: BLUE },
  { key: "magentaRise", values: magentaRise, color: MAGENTA },
  { key: "cyanMid", values: cyanMid, color: CYAN },
  { key: "darkRedFall", values: darkRedFall, color: DKRED },
  { key: "darkBlueMid", values: darkBlueMid, color: DKBLUE },
  { key: "blackMid", values: blackMid, color: BLACK },
  { key: "redJumpy", values: redJumpy, color: RED },
  { key: "greenSlide", values: greenSlide, color: GREEN },
  { key: "blueJumpy", values: blueJumpy, color: BLUE },
  { key: "magentaJumpy", values: magentaJumpy, color: MAGENTA },
  { key: "cyanSlide", values: cyanSlide, color: CYAN },
  { key: "redMid", values: redMid, color: RED },
  { key: "greenRise", values: greenRise, color: GREEN },
  { key: "blueDrift", values: blueDrift, color: BLUE },
  { key: "magentaLow", values: magentaLow, color: MAGENTA },
  { key: "cyanLow", values: cyanLow, color: CYAN },
  { key: "greenLow", values: greenLow, color: GREEN },
  { key: "blueRise", values: blueRise, color: BLUE },
  { key: "cyanHigh", values: cyanHigh, color: CYAN },
  { key: "greenHigh", values: greenHigh, color: GREEN },
  { key: "redEarly", values: redEarly, color: RED },
  { key: "redLate", values: redLate, color: RED },
  { key: "yellowLate", values: yellowLate, color: YELLOW },
  { key: "darkBlueHigh", values: darkBlueHigh, color: DKBLUE },
  { key: "lightBlueFlat", values: lightBlueFlat, color: LTBLUE },
  { key: "lightBlueFlatHigh", values: lightBlueFlatHigh, color: LTBLUE },
  { key: "redFlat", values: redFlat, color: RED },
  { key: "lightBlueHigh", values: lightBlueHigh, color: LTBLUE },
  { key: "yellowTop", values: yellowTop, color: YELLOW },
]

const data = hours.map((hour, i) => {
  const row: Record<string, number> = { hour }
  series.forEach((s) => {
    row[s.key] = s.values[i]
  })
  return row
})

const FONT = "'DejaVu Sans Mono', monospace"
const FS = 11.5

const BottomTick = ({ x, y, payload }: any) => (
  <g>
    <line x1={x} y1={y} x2={x} y2={y - 6} stroke="#000" />
    <text x={x} y={y + 11} textAnchor="middle" dominantBaseline="central" fontFamily={FONT} fontSize={FS} fill="#000">
      {payload.value}
    </text>
  </g>
)

const TopTick = ({ x, y }: any) => <line x1={x} y1={y} x2={x} y2={y + 6} stroke="#000" />

const LeftTick = ({ x, y, payload }: any) => (
  <g>
    <line x1={x} y1={y} x2={x + 6} y2={y} stroke="#000" />
    <text x={x - 8} y={y} textAnchor="end" dominantBaseline="central" fontFamily={FONT} fontSize={FS} fill="#000">
      {payload.value}
    </text>
  </g>
)

const RightTick = ({ x, y }: any) => <line x1={x} y1={y} x2={x - 6} y2={y} stroke="#000" />

export default function App() {
  return (
    <div style={{ position: "relative", width: 640, height: 480, background: "#fff" }}>
      <style>{"body{margin:0}"}</style>
      <LineChart
        width={640}
        height={480}
        data={data}
        margin={{ top: 32, right: 20, bottom: 0, left: 0 }}
        style={{ shapeRendering: "crispEdges" }}
      >
        <XAxis
          xAxisId="b"
          dataKey="hour"
          type="number"
          domain={[0, 23.75]}
          ticks={xTicks}
          interval={0}
          height={34}
          tickSize={0}
          tickMargin={0}
          tickLine={false}
          stroke="#000"
          tick={<BottomTick />}
        />
        <XAxis
          xAxisId="t"
          orientation="top"
          dataKey="hour"
          type="number"
          domain={[0, 23.75]}
          ticks={xTicks}
          interval={0}
          height={0}
          tickSize={0}
          tickMargin={0}
          tickLine={false}
          stroke="#000"
          tick={<TopTick />}
        />
        <YAxis
          yAxisId="l"
          type="number"
          domain={[-30, 50]}
          ticks={yTicks}
          interval={0}
          width={51}
          tickSize={0}
          tickMargin={0}
          tickLine={false}
          stroke="#000"
          tick={<LeftTick />}
        />
        <YAxis
          yAxisId="r"
          orientation="right"
          type="number"
          domain={[-30, 50]}
          ticks={yTicks}
          interval={0}
          width={0}
          tickSize={0}
          tickMargin={0}
          tickLine={false}
          stroke="#000"
          tick={<RightTick />}
        />
        {series.map((s) => (
          <Line
            key={s.key}
            xAxisId="b"
            yAxisId="l"
            type="linear"
            dataKey={s.key}
            stroke={s.color}
            strokeWidth={1}
            dot={false}
            activeDot={false}
            isAnimationActive={false}
          />
        ))}
      </LineChart>
      <svg
        width={640}
        height={480}
        style={{ position: "absolute", left: 0, top: 0, pointerEvents: "none" }}
        fontFamily={FONT}
        fontSize={FS}
      >
        <text x={336} y={15} textAnchor="middle" dominantBaseline="central" fill="#000">
          Cumulative Z-Squared Value
        </text>
        <text x={336} y={473} textAnchor="middle" dominantBaseline="central" fill="#000">
          Hour of Day
        </text>
        <text
          x={12}
          y={239}
          textAnchor="middle"
          dominantBaseline="central"
          fill="#000"
          transform="rotate(-90 12 239)"
        >
          Cumulative (Z*Z)-1
        </text>
      </svg>
    </div>
  )
}
